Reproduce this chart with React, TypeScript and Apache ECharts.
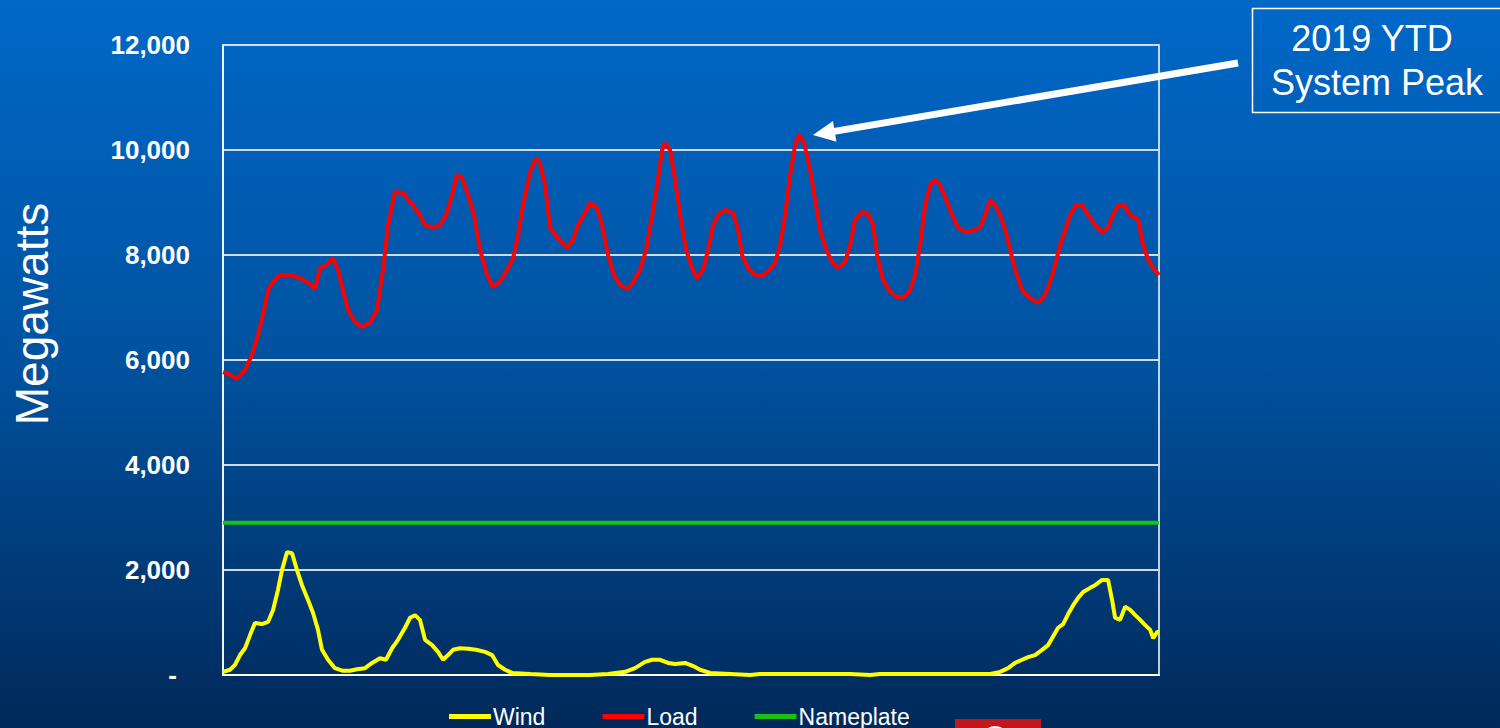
import React, { useEffect, useRef } from "react";
import * as echarts from "echarts";

// Hours since start of the period (x) and megawatts (y)
const loadHours = [0,5.6,11.1,17.5,23.1,27.8,31.8,35.8,39.8,45.3,53.3,61.2,67.6,73.1,77.1,82.7,87.4,91.4,95.4,99.4,104.9,110.5,116.9,122.4,127.2,131.2,136.7,143.1,148.7,155.0,160.6,167.0,172.5,177.3,182.1,186.0,190.0,194.8,199.5,204.3,209.9,214.7,220.2,225.8,230.6,234.5,238.5,244.1,248.8,252.0,256.0,260.0,264.7,269.5,273.5,278.2,282.2,287.8,291.8,297.3,301.3,306.1,310.8,315.6,321.2,325.9,331.5,336.3,341.1,345.0,349.0,351.4,355.4,359.4,363.3,368.1,372.9,376.8,381.6,385.6,389.6,393.5,399.1,405.5,409.4,412.6,417.4,423.0,428.5,434.9,438.8,442.8,446.8,450.8,454.8,457.9,461.9,466.7,470.7,474.6,479.4,484.2,488.9,494.5,498.5,502.4,508.0,512.8,516.8,519.9,524.7,530.3,535.8,541.4,546.2,550.1,554.1,558.1,562.1,566.1,570.0,574.8,579.6,584.4,589.9,595.5,601.8,605.8,609.8,613.7,617.7,621.7,625.7,629.6,635.2,641.6,647.9,653.5,657.5,661.4,665.4,669.4,673.4,678.1,682.9,687.7,693.2,698.8,703.5,707.5,711.5,716.3,721.1,727.4,731.4,735.4,739.4,744];
const loadMW = [5770,5720,5640,5810,6100,6480,6860,7330,7490,7620,7620,7560,7470,7350,7750,7810,7940,7720,7330,6950,6720,6630,6710,6950,7720,8570,9200,9180,9010,8820,8570,8520,8570,8760,9140,9530,9470,9140,8760,8100,7620,7390,7490,7720,7940,8380,8950,9580,9850,9750,9330,8520,8360,8230,8130,8290,8570,8800,8990,8900,8570,8000,7620,7430,7350,7470,7720,8100,8760,9330,10000,10130,10000,9430,8760,8100,7750,7560,7720,8100,8570,8760,8860,8800,8480,8000,7750,7620,7600,7720,7850,8190,8760,9530,10100,10290,10130,9620,9050,8480,8100,7870,7750,7870,8190,8670,8820,8780,8570,8000,7520,7300,7200,7200,7330,7620,8190,8950,9330,9430,9330,9050,8760,8520,8440,8460,8520,8760,9050,8950,8760,8480,8100,7720,7330,7180,7090,7240,7490,7810,8190,8480,8760,8950,8950,8760,8570,8420,8520,8760,8950,8950,8760,8670,8190,7910,7750,7620];

const windHours = [0,5.6,9.5,13.5,17.5,21.5,25.4,31.0,35.8,39.8,43.7,46.9,50.9,54.9,58.8,62.8,67.6,71.6,75.5,78.7,83.5,89.0,95.4,101.0,106.5,112.9,118.5,124.8,129.6,134.4,139.1,144.7,148.7,152.6,156.6,160.6,166.2,170.9,174.9,178.9,182.9,188.4,194.8,201.1,208.3,213.9,218.6,224.2,229.8,244.1,260.0,275.9,291.8,306.1,319.6,327.5,335.5,341.1,347.4,353.8,359.4,367.3,373.7,379.2,387.2,403.1,419.0,426.9,458.7,498.5,514.4,522.3,570.0,609.8,617.7,624.1,629.6,635.2,640.0,645.5,651.1,655.9,659.9,663.8,667.8,671.8,675.8,679.7,683.7,689.3,693.2,698.8,703.5,706.7,709.1,713.1,717.1,721.1,725.1,729.0,733.0,737.0,739.4,742.6,744];
const windMW = [60,100,190,380,510,760,990,970,1010,1240,1620,2000,2340,2320,2000,1710,1430,1180,860,480,290,130,80,80,110,130,230,320,290,510,670,900,1090,1140,1050,670,570,440,290,380,480,510,500,480,440,380,190,100,40,20,0,0,0,20,60,130,250,290,290,230,210,230,170,100,40,20,0,20,20,20,0,20,20,20,60,130,230,290,340,380,480,570,740,900,970,1160,1330,1470,1580,1660,1710,1810,1810,1430,1090,1050,1300,1240,1140,1050,950,860,700,820,820];

const nameplateHours = [0, 744];
const nameplateMW = [2900, 2900];

const yTicks = { min: 0, max: 12000, interval: 2000 };
const seriesNames = ["Wind", "Load", "Nameplate"];
const annotationLines = ["2019 YTD", "System Peak"];
const yAxisTitle = "Megawatts";

const FONT = '"Liberation Sans", Arial, Helvetica, sans-serif';

const pairs = (xs: number[], ys: number[]) => xs.map((x, i) => [x, ys[i]]);

export default function App() {
  const ref = useRef<HTMLDivElement>(null);
  useEffect(() => {
    document.body.style.margin = "0";
    const chart = echarts.init(ref.current!, null, { renderer: "svg" });

    // arrow geometry (annotation)
    const tail = [1238, 63];
    const tip = [813, 135];
    const dx = tip[0] - tail[0];
    const dy = tip[1] - tail[1];
    const len = Math.sqrt(dx * dx + dy * dy);
    const ux = dx / len, uy = dy / len;
    const nx = -uy, ny = ux;
    const headLen = 22, headHalf = 10.5;
    const base = [tip[0] - headLen * ux, tip[1] - headLen * uy];

    chart.setOption({
      animation: false,
      backgroundColor: new echarts.graphic.LinearGradient(0, 0, 0, 1, [
        { offset: 0, color: "#0068c8" },
        { offset: 0.5, color: "#00529f" },
        { offset: 1, color: "#00295a" },
      ]),
      grid: {
        left: 223,
        right: 341,
        top: 45,
        bottom: 53,
        show: true,
        borderColor: "#ffffff",
        borderWidth: 1.5,
        backgroundColor: "transparent",
      },
      legend: {
        data: seriesNames,
        left: 444,
        top: 700,
        icon: "rect",
        itemWidth: 42,
        itemHeight: 5,
        itemGap: 57,
        textStyle: { color: "#ffffff", fontSize: 23, fontFamily: FONT, padding: [0, 0, 0, -3] },
      },
      xAxis: {
        type: "value",
        min: 0,
        max: 744,
        axisLabel: { show: false },
        axisTick: { show: false },
        splitLine: { show: false },
        axisLine: { show: true, lineStyle: { color: "#ffffff", width: 2 } },
      },
      yAxis: {
        type: "value",
        min: yTicks.min,
        max: yTicks.max,
        interval: yTicks.interval,
        axisTick: { show: false },
        axisLine: { show: true, lineStyle: { color: "#ffffff", width: 1.5 } },
        splitLine: { show: true, lineStyle: { color: "#d4dbe8", width: 2 } },
        axisLabel: {
          margin: 33,
          color: "#ffffff",
          fontSize: 26,
          fontWeight: "bold",
          fontFamily: FONT,
          formatter: (v: number) =>
            v === 0 ? "{dash|-}" : v.toLocaleString("en-US"),
          rich: {
            dash: {
              color: "#ffffff",
              fontSize: 26,
              fontWeight: "bold",
              fontFamily: FONT,
              padding: [0, 13, 0, 0],
            },
          },
        },
      },
      series: [
        {
          name: seriesNames[0],
          type: "line",
          data: pairs(windHours, windMW),
          symbol: "none",
          color: "#ffff00",
          lineStyle: { color: "#ffff00", width: 4 },
          z: 3,
        },
        {
          name: seriesNames[1],
          type: "line",
          data: pairs(loadHours, loadMW),
          symbol: "none",
          color: "#ff0000",
          lineStyle: { color: "#ff0000", width: 4 },
          z: 4,
        },
        {
          name: seriesNames[2],
          type: "line",
          data: pairs(nameplateHours, nameplateMW),
          symbol: "none",
          color: "#18c018",
          lineStyle: { color: "#18c018", width: 4 },
          z: 2,
        },
      ],
      graphic: [
        {
          type: "text",
          x: 32,
          y: 314,
          rotation: Math.PI / 2,
          style: {
            text: yAxisTitle,
            fill: "#ffffff",
            font: `46px ${FONT}`,
            align: "center",
            verticalAlign: "middle",
          },
        },
        {
          type: "rect",
          shape: { x: 1252.5, y: 8.5, width: 260, height: 104 },
          style: { fill: "transparent", stroke: "#ffffff", lineWidth: 1.5 },
        },
        {
          type: "text",
          x: 1372,
          y: 38,
          style: {
            text: annotationLines[0],
            fill: "#ffffff",
            font: `36px ${FONT}`,
            align: "center",
            verticalAlign: "middle",
          },
        },
        {
          type: "text",
          x: 1377,
          y: 82,
          style: {
            text: annotationLines[1],
            fill: "#ffffff",
            font: `36px ${FONT}`,
            align: "center",
            verticalAlign: "middle",
          },
        },
        {
          type: "line",
          shape: { x1: tail[0], y1: tail[1], x2: base[0] + 2 * ux, y2: base[1] + 2 * uy },
          style: { stroke: "#ffffff", lineWidth: 7 },
        },
        {
          type: "polygon",
          shape: {
            points: [
              [tip[0], tip[1]],
              [base[0] + headHalf * nx, base[1] + headHalf * ny],
              [base[0] - headHalf * nx, base[1] - headHalf * ny],
            ],
          },
          style: { fill: "#ffffff" },
        },
        {
          type: "rect",
          shape: { x: 955, y: 719, width: 86, height: 12 },
          style: { fill: "#c4161c" },
        },
        {
          type: "circle",
          shape: { cx: 995, cy: 740, r: 14 },
          style: { fill: "#ffffff" },
        },
      ],
    });
    return () => chart.dispose();
  }, []);
  return (
    <div
      ref={ref}
      style={{ position: "fixed", left: 0, top: 0, width: 1500, height: 728 }}
    />
  );
}
